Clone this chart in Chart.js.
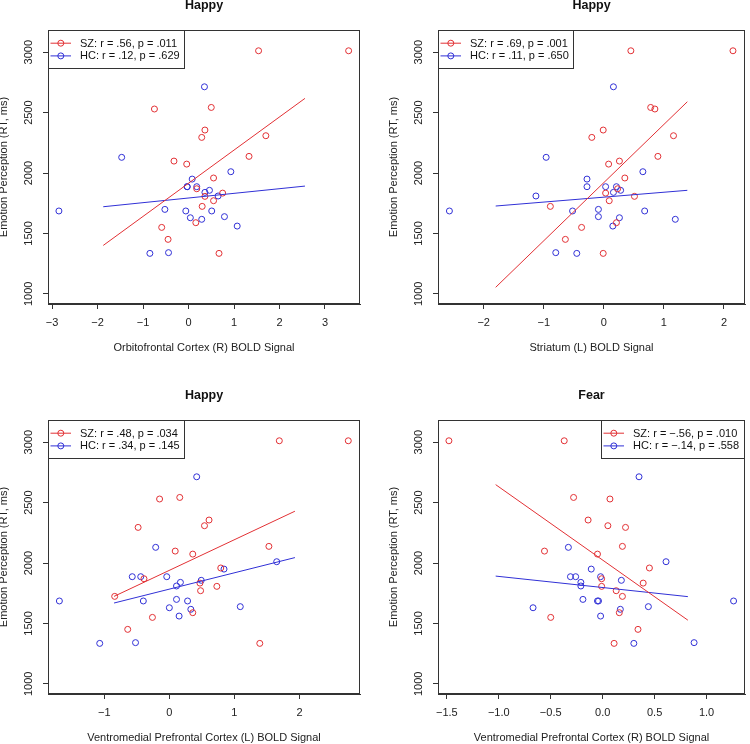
<!DOCTYPE html>
<html>
<head>
<meta charset="utf-8">
<title>Emotion perception vs BOLD signal</title>
<script src="https://cdn.jsdelivr.net/npm/chart.js@4.4.1/dist/chart.umd.min.js"></script>
<style>
  body { margin: 0; background: #fff; }
  #grid { display: grid; grid-template-columns: 375px 375px; grid-template-rows: 372px 372px; width: 750px; height: 744px; }
  canvas { display: block; }
</style>
</head>
<body>
<div id="grid">
  <div><canvas id="c1" width="375" height="372"></canvas></div>
  <div><canvas id="c2" width="375" height="372"></canvas></div>
  <div><canvas id="c3" width="375" height="372"></canvas></div>
  <div><canvas id="c4" width="375" height="372"></canvas></div>
</div>
<script>
// reaction times, same subjects in every panel
const szRT = [3012, 3012, 2530, 2543, 2356, 2295, 2309, 2138, 2099, 2074, 1959, 1870, 1834, 1807, 1771, 1724, 1589, 1550, 1451, 1335];
const hcRT = [2714, 2130, 1686, 2011, 1950, 1887, 1887, 1887, 1840, 1857, 1810, 1699, 1686, 1686, 1639, 1630, 1617, 1561, 1341, 1335];
const yTicks = [1000, 1500, 2000, 2500, 3000];

// BOLD signal per region
const ofcSZ = [1.54, 3.52, -0.75, 0.50, 0.36, 0.29, 1.70, 1.33, -0.32, -0.04, 0.55, 0.18, 0.75, 0.36, 0.55, 0.30, 0.16, -0.59, -0.45, 0.67];
const ofcHC = [0.35, -1.47, -2.85, 0.93, 0.08, -0.03, -0.03, 0.18, 0.36, 0.46, 0.65, -0.52, -0.06, 0.51, 0.79, 0.04, 0.29, 1.07, -0.44, -0.85];
const strSZ = [0.45, 2.15, 0.85, 0.78, -0.01, -0.20, 1.16, 0.90, 0.26, 0.08, 0.35, 0.23, 0.03, 0.51, 0.09, -0.89, 0.21, -0.37, -0.64, -0.01];
const strHC = [0.16, -0.96, -2.57, 0.65, -0.28, -0.28, 0.03, 0.21, 0.16, 0.28, -1.13, -0.09, -0.52, 0.68, -0.09, 0.26, 1.19, 0.15, -0.80, -0.45];
const vmpflSZ = [1.69, 2.75, -0.15, 0.16, 0.61, -0.48, 0.54, 1.53, 0.09, 0.36, 0.79, -0.39, 0.47, 0.73, 0.48, -0.84, 0.36, -0.26, -0.64, 1.39];
const vmpflHC = [0.42, -0.21, -1.69, 1.65, 0.84, -0.57, -0.44, -0.04, 0.17, 0.49, 0.11, 0.11, -0.40, 0.28, 1.09, 0.00, 0.33, 0.15, -0.52, -1.07];
const vmpfrSZ = [-0.37, -1.48, 0.07, -0.28, -0.14, 0.22, 0.05, 0.19, -0.56, -0.05, 0.45, -0.01, 0.39, -0.01, 0.13, 0.19, 0.16, -0.50, 0.34, 0.11];
const vmpfrHC = [0.35, -0.33, 1.26, 0.61, -0.11, -0.31, -0.26, -0.02, -0.21, 0.18, -0.21, -0.19, -0.05, -0.04, 0.44, -0.67, 0.17, -0.02, 0.88, 0.30];

// fitted lines: x ends, then y ends for SZ and HC
const ofcFitX = [-1.875, 2.56], ofcFitSZ = [1401, 2618], ofcFitHC = [1721, 1892];
const strFitX = [-1.80, 1.39], strFitSZ = [1054, 2590], strFitHC = [1727, 1857];
const vmpflFitX = [-0.85, 1.93], vmpflFitSZ = [1724, 2429], vmpflFitHC = [1669, 2045];
const vmpfrFitX = [-1.03, 0.82], vmpfrFitSZ = [2649, 1527], vmpfrFitHC = [1892, 1722];

const ofcTicks = [-3, -2, -1, 0, 1, 2, 3], ofcLabels = ["\u22123", "\u22122", "\u22121", "0", "1", "2", "3"];
const strTicks = [-2, -1, 0, 1, 2], strLabels = ["\u22122", "\u22121", "0", "1", "2"];
const vmpflTicks = [-1, 0, 1, 2], vmpflLabels = ["\u22121", "0", "1", "2"];
const vmpfrTicks = [-1.5, -1, -0.5, 0, 0.5, 1], vmpfrLabels = ["\u22121.5", "\u22121.0", "\u22120.5", "0.0", "0.5", "1.0"];

const titles = ["Happy", "Happy", "Happy", "Fear"];
const xTitles = ["Orbitofrontal Cortex (R) BOLD Signal", "Striatum (L) BOLD Signal",
  "Ventromedial Prefrontal Cortex (L) BOLD Signal", "Ventromedial Prefrontal Cortex (R) BOLD Signal"];
const legendSZ = ["SZ: r = .56, p = .011", "SZ: r = .69, p = .001", "SZ: r = .48, p = .034", "SZ: r = \u2212.56, p = .010"];
const legendHC = ["HC: r = .12, p = .629", "HC: r = .11, p = .650", "HC: r = .34, p = .145", "HC: r = \u2212.14, p = .558"];

const RED = "rgb(226,48,52)";
const BLUE = "rgb(48,48,214)";
const INK = "#222";
const FONT = '"Liberation Sans", Arial, sans-serif';

Chart.defaults.font.family = FONT;
Chart.defaults.font.size = 11;
Chart.defaults.color = INK;

function pts(xs, ys) {
    return xs.map(function (x, i) { return { x: x, y: ys[i] }; });
}

// box, title and R-style legend
const rDecor = {
    id: 'rDecor',
    afterDraw(chart, args, o) {
        const ctx = chart.ctx;
        const a = chart.chartArea;
        ctx.save();
        ctx.strokeStyle = "#333";
        ctx.lineWidth = 1;
        const l = Math.round(a.left) + 0.5, t = Math.round(a.top) + 0.5;
        const r = Math.round(a.right) - 0.5, b = Math.round(a.bottom) - 0.5;
        ctx.strokeRect(l, t, r - l, b - t);

        ctx.fillStyle = "#111";
        ctx.font = 'bold 12.5px ' + FONT;
        ctx.textAlign = "center";
        ctx.textBaseline = "alphabetic";
        ctx.fillText(o.title, (a.left + a.right) / 2, a.top - 21);

        ctx.font = '11px ' + FONT;
        const items = chart.data.datasets.filter(function (d) { return d.inLegend; });
        let tw = 0;
        items.forEach(function (d) { tw = Math.max(tw, ctx.measureText(d.label).width); });
        const w = Math.round(31.5 + tw + 5), h = 38;
        const x0 = o.right ? r - w : l;
        ctx.fillStyle = "#fff";
        ctx.fillRect(x0, t, w, h);
        ctx.strokeStyle = "#333";
        ctx.strokeRect(x0, t, w, h);
        items.forEach(function (d, i) {
            const yy = t + 12.7 + i * 12.7;
            ctx.strokeStyle = d.borderColor;
            ctx.beginPath();
            ctx.moveTo(x0 + 2, yy);
            ctx.lineTo(x0 + 22.5, yy);
            ctx.stroke();
            ctx.beginPath();
            ctx.arc(x0 + 12.3, yy, 3, 0, Math.PI * 2);
            ctx.stroke();
            ctx.fillStyle = "#111";
            ctx.textAlign = "left";
            ctx.textBaseline = "middle";
            ctx.fillText(d.label, x0 + 31.5, yy + 0.5);
        });
        ctx.restore();
    }
};

function makePanel(id, p) {
    const axisStyle = {
        grid: { drawOnChartArea: false, drawTicks: true, tickLength: 5, color: "#333" },
        border: { display: true, color: "#333" }
    };
    return new Chart(document.getElementById(id), {
        type: 'scatter',
        data: {
            datasets: [
                { label: p.legend[0], inLegend: true, data: pts(p.sz, szRT), borderColor: RED, backgroundColor: "rgba(0,0,0,0)", pointRadius: 3, borderWidth: 1 },
                { label: p.legend[1], inLegend: true, data: pts(p.hc, hcRT), borderColor: BLUE, backgroundColor: "rgba(0,0,0,0)", pointRadius: 3, borderWidth: 1 },
                { label: "SZ fit", data: pts(p.fitX, p.fitSZ), showLine: true, borderColor: RED, borderWidth: 1, pointRadius: 0, order: -1 },
                { label: "HC fit", data: pts(p.fitX, p.fitHC), showLine: true, borderColor: BLUE, borderWidth: 1, pointRadius: 0, order: -1 }
            ]
        },
        options: {
            responsive: false,
            animation: false,
            events: [],
            layout: { padding: { left: 0, top: p.top, right: p.padRight, bottom: 0 } },
            plugins: {
                legend: { display: false },
                tooltip: { enabled: false },
                rDecor: { title: p.title, right: p.legendRight }
            },
            scales: {
                x: Object.assign({
                    type: 'linear', min: p.xMin, max: p.xMax,
                    afterBuildTicks: function (s) { s.ticks = p.xTicks.map(function (v) { return { value: v }; }); },
                    afterFit: function (s) { s.height = 372 - p.bottom; },
                    ticks: { autoSkip: false, padding: 7, maxRotation: 0, callback: function (v, i) { return p.xLabels[i]; } },
                    title: { display: true, text: p.xTitle, padding: { top: 0, bottom: p.xTitlePad } }
                }, axisStyle),
                y: Object.assign({
                    type: 'linear', min: 916, max: 3184,
                    afterBuildTicks: function (s) { s.ticks = yTicks.map(function (v) { return { value: v }; }); },
                    afterFit: function (s) { s.width = p.left; },
                    ticks: { autoSkip: false, minRotation: 90, maxRotation: 90, crossAlign: 'center', padding: 2,
                        callback: function (v, i) { return String(yTicks[i]); } },
                    title: { display: true, text: "Emotion Perception (RT, ms)", padding: { top: p.yTitlePad, bottom: 0 } }
                }, axisStyle)
            }
        },
        plugins: [rDecor]
    });
}

makePanel('c1', { title: titles[0], xTitle: xTitles[0], legend: [legendSZ[0], legendHC[0]],
    sz: ofcSZ, hc: ofcHC, fitX: ofcFitX, fitSZ: ofcFitSZ, fitHC: ofcFitHC,
    xMin: -3.09, xMax: 3.77, xTicks: ofcTicks, xLabels: ofcLabels,
    left: 48, top: 30, bottom: 304, padRight: 15, xTitlePad: 17, yTitlePad: -2.6, legendRight: false });

makePanel('c2', { title: titles[1], xTitle: xTitles[1], legend: [legendSZ[1], legendHC[1]],
    sz: strSZ, hc: strHC, fitX: strFitX, fitSZ: strFitSZ, fitHC: strFitHC,
    xMin: -2.76, xMax: 2.35, xTicks: strTicks, xLabels: strLabels,
    left: 63, top: 30, bottom: 304, padRight: 1, xTitlePad: 17, yTitlePad: 11.9, legendRight: false });

makePanel('c3', { title: titles[2], xTitle: xTitles[2], legend: [legendSZ[2], legendHC[2]],
    sz: vmpflSZ, hc: vmpflHC, fitX: vmpflFitX, fitSZ: vmpflFitSZ, fitHC: vmpflFitHC,
    xMin: -1.865, xMax: 2.93, xTicks: vmpflTicks, xLabels: vmpflLabels,
    left: 48, top: 48, bottom: 322, padRight: 15, xTitlePad: -0.3, yTitlePad: -2.6, legendRight: false });

makePanel('c4', { title: titles[3], xTitle: xTitles[3], legend: [legendSZ[3], legendHC[3]],
    sz: vmpfrSZ, hc: vmpfrHC, fitX: vmpfrFitX, fitSZ: vmpfrFitSZ, fitHC: vmpfrFitHC,
    xMin: -1.585, xMax: 1.37, xTicks: vmpfrTicks, xLabels: vmpfrLabels,
    left: 63, top: 48, bottom: 322, padRight: 1, xTitlePad: -0.3, yTitlePad: 11.9, legendRight: true });
</script>
</body>
</html>
